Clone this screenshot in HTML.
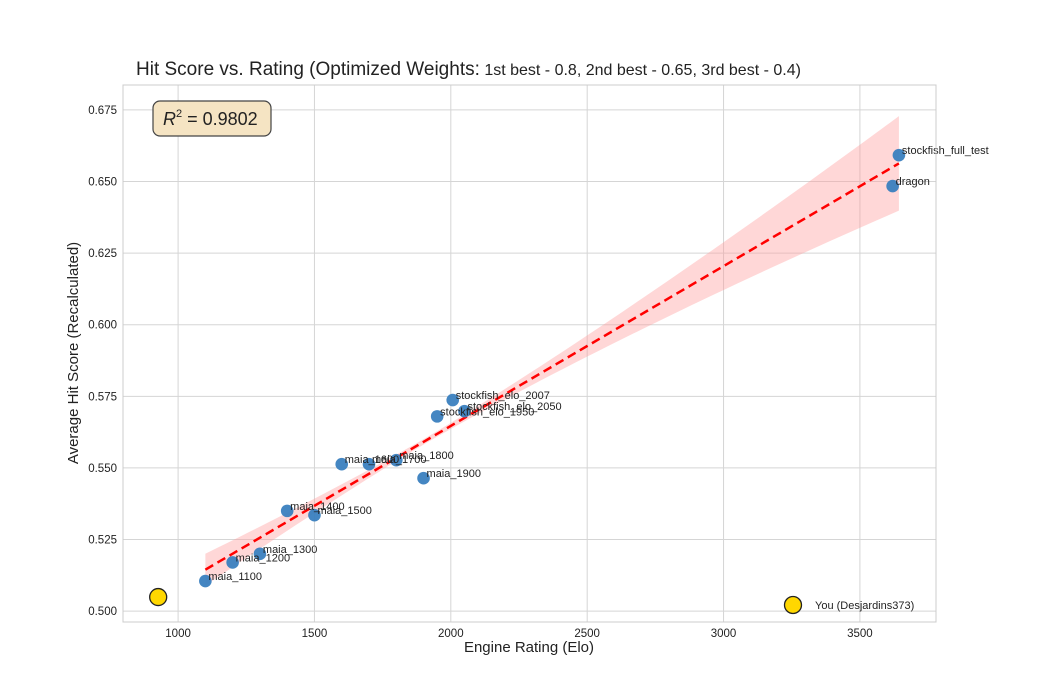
<!DOCTYPE html>
<html><head><meta charset="utf-8"><style>
body{margin:0;background:#fff;}
svg text{font-family:"Liberation Sans","DejaVu Sans",sans-serif;}
</style></head><body>
<svg id="chart" width="1038" height="692" xmlns="http://www.w3.org/2000/svg">
<rect x="0" y="0" width="1038" height="692" fill="#fff"/>
<g id="grid"></g>
<g id="band"></g>
<g id="fit"></g>
<g id="pts"></g>
<g id="labels"></g>
<g id="ticks"></g>
<rect x="123" y="85" width="813" height="537" fill="none" stroke="#ccc" stroke-width="1"/>
<text x="136" y="75" font-size="19" fill="#222">Hit Score vs. Rating (Optimized Weights:<tspan font-size="16"> 1st best - 0.8, 2nd best - 0.65, 3rd best - 0.4)</tspan></text>
<text x="529" y="652" font-size="15" fill="#222" text-anchor="middle">Engine Rating (Elo)</text>
<text transform="translate(78,353) rotate(-90)" font-size="15" fill="#222" text-anchor="middle">Average Hit Score (Recalculated)</text>
<g>
<rect x="153" y="101" width="118" height="35" rx="7" fill="#f5e4c3" stroke="#444" stroke-width="1.2"/>
<text x="163" y="125" font-size="18" fill="#222"><tspan font-style="italic">R</tspan><tspan font-size="11" dy="-8">2</tspan><tspan dy="8"> = 0.9802</tspan></text>
</g>
<g>
<circle cx="793" cy="605" r="8.5" fill="#ffd700" stroke="#222" stroke-width="1.3"/>
<text x="815" y="609" font-size="11" fill="#222">You (Desjardins373)</text>
</g>
</svg>
<script>
const names=["maia_1100","maia_1200","maia_1300","maia_1400","maia_1500","maia_1600","maia_1700","maia_1800","maia_1900","stockfish_elo_1950","stockfish_elo_2007","stockfish_elo_2050","dragon","stockfish_full_test"];
const ratings=[1100,1200,1300,1400,1500,1600,1700,1800,1900,1950,2007,2050,3620,3643];
const scores=[0.5105,0.5170,0.5200,0.5350,0.5335,0.5513,0.5513,0.5527,0.5464,0.5680,0.5737,0.5698,0.6484,0.6592];
const youRating=[927];
const youScore=[0.5049];
const xTicks=[1000,1500,2000,2500,3000,3500];
const yTicks=[0.500,0.525,0.550,0.575,0.600,0.625,0.650,0.675];
const X0=798,X1=3779,Y0=0.4962,Y1=0.6837,L=123,R=936,T=85,B=622;
const sx=v=>L+(v-X0)/(X1-X0)*(R-L);
const sy=v=>B-(v-Y0)/(Y1-Y0)*(B-T);
const NS="http://www.w3.org/2000/svg";
function mk(p,tag,at){const e=document.createElementNS(NS,tag);for(const k in at)e.setAttribute(k,at[k]);document.getElementById(p).appendChild(e);return e;}
xTicks.forEach(t=>{const g=mk('grid','line',{x1:sx(t),x2:sx(t),y1:T,y2:B,stroke:'#d5d5d5'});

const tx=mk('ticks','text',{x:sx(t),y:B+15,'font-size':11.5,fill:'#222','text-anchor':'middle'});tx.textContent=t;
});
yTicks.forEach(t=>{const g=mk('grid','line',{x1:L,x2:R,y1:sy(t),y2:sy(t),stroke:'#d5d5d5'});

const tx=mk('ticks','text',{x:L-6,y:sy(t)+4,'font-size':11.5,fill:'#222','text-anchor':'end'});tx.textContent=t.toFixed(3);
});
const n=ratings.length,mx=ratings.reduce((a,b)=>a+b)/n,my=scores.reduce((a,b)=>a+b)/n;
let sxx=0,sxy=0;ratings.forEach((x,i)=>{sxx+=(x-mx)**2;sxy+=(x-mx)*(scores[i]-my);});
const b=sxy/sxx,a=my-b*mx;let sse=0;ratings.forEach((x,i)=>{sse+=(scores[i]-a-b*x)**2;});
const se=Math.sqrt(sse/(n-2));
const xmin=Math.min(...ratings),xmax=Math.max(...ratings);
const dmax=Math.max(xmax-mx,mx-xmin);
let up=[],lo=[];for(let k=0;k<=60;k++){const x=xmin+(xmax-xmin)*k/60;const r=Math.abs(x-mx)/dmax;const h=se*2.4*(0.06+Math.pow(r,1.6));const yh=a+b*x;up.push(sx(x)+','+sy(yh+h));lo.unshift(sx(x)+','+sy(yh-h));}
const band=mk('band','polygon',{points:up.concat(lo).join(' '),fill:'#ff9a9a','fill-opacity':0.4});

const fl=mk('fit','line',{x1:sx(xmin),y1:sy(a+b*xmin),x2:sx(xmax),y2:sy(a+b*xmax),stroke:'#ff0000','stroke-width':2.5,'stroke-dasharray':'9,5'});

ratings.forEach((x,i)=>{const c=mk('pts','circle',{cx:sx(x),cy:sy(scores[i]),r:6.3,fill:'#3a7fbf','fill-opacity':0.95});

const t=mk('labels','text',{x:sx(x)+3,y:sy(scores[i])-1,'font-size':11,fill:'#222'});t.textContent=names[i];
});
youRating.forEach((x,i)=>{const c=mk('pts','circle',{cx:sx(x),cy:sy(youScore[i]),r:8.5,fill:'#ffd700',stroke:'#222','stroke-width':1.3});
});
</script>
</body></html>
